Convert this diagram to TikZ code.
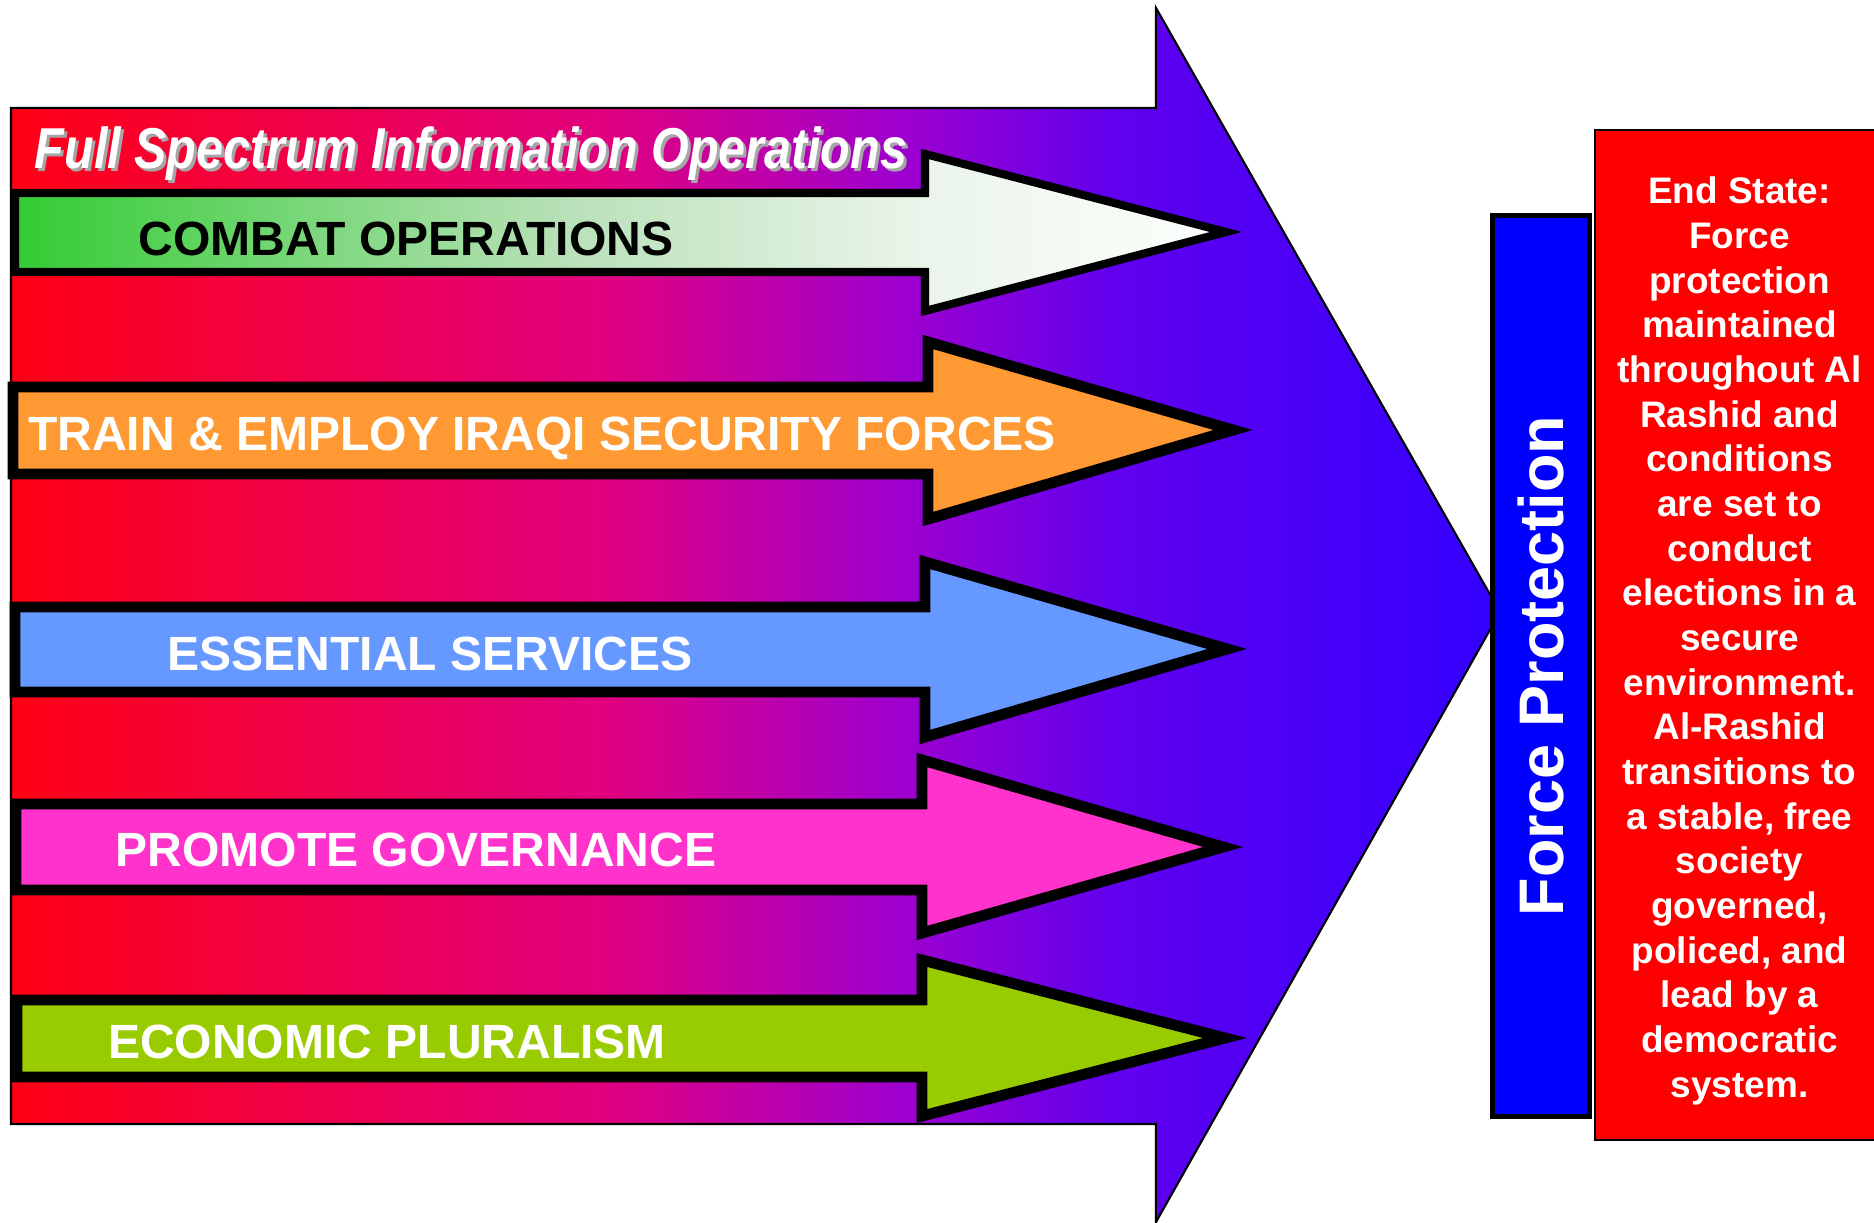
\documentclass[tikz,border=0pt]{standalone}
\usepackage{fontspec}
\setmainfont{Liberation Sans}
\newfontfamily\narrowsans[FakeStretch=0.84]{Liberation Sans}

% shadings, stops between 25bp and 75bp cover the path
\pgfdeclarehorizontalshading{bigarrowshade}{100bp}{rgb(0bp)=(1,0,0.08); rgb(25bp)=(1,0,0.08); rgb(45bp)=(0.88,0,0.5); rgb(54.5bp)=(0.63,0,0.8); rgb(62bp)=(0.38,0,0.93); rgb(75bp)=(0.2,0,1); rgb(100bp)=(0.2,0,1)}
\pgfdeclarehorizontalshading{combatshade}{100bp}{rgb(0bp)=(0.2,0.8,0.2); rgb(25bp)=(0.2,0.8,0.2); rgb(47.5bp)=(0.72,0.88,0.72); rgb(62.5bp)=(0.92,0.96,0.92); rgb(75bp)=(0.99,1,0.99); rgb(100bp)=(0.99,1,0.99)}

\definecolor{trainorange}{RGB}{255,153,51}
\definecolor{servblue}{RGB}{102,153,255}
\definecolor{govpink}{RGB}{255,51,204}
\definecolor{econgreen}{RGB}{153,204,0}

\begin{document}
\begin{tikzpicture}[x=0.01cm, y=-0.01cm,
		bigarrow/.style={draw=black, line width=0.6pt, shade, shading=bigarrowshade},
		linearrow/.style={draw=black, line width=3.1pt, line join=miter, miter limit=20},
		armlabel/.style={font=\fontsize{13.66}{16}\selectfont\bfseries, inner sep=0pt},
		titletext/.style={font=\narrowsans\fontsize{16.4}{19}\selectfont\bfseries\itshape, inner sep=0pt},
		fpbar/.style={draw=black, line width=1.5pt, fill={rgb,255:red,0;green,0;blue,255}, text=white,
			font=\fontsize{17.9}{21}\selectfont\bfseries, inner sep=0pt},
		endbox/.style={draw=black, line width=0.6pt, fill={rgb,255:red,255;green,0;blue,0}, text=white,
			font=\fontsize{10.5}{12.7}\selectfont\bfseries, inner sep=0pt}]
		\useasboundingbox (0,0) rectangle (1874,1222);

		% Draw the big arrow
		\draw[bigarrow] (11,108) -- (1156,108) -- (1156,8) -- (1500,612) -- (1156,1222) -- (1156,1124) -- (11,1124) -- cycle;

		% Draw the five lines of operation
		\draw[linearrow, line width=2.3pt, shade, shading=combatshade] (15,193) -- (925,193) -- (925,154) -- (1226,232) -- (925,311) -- (925,272) -- (15,272) -- cycle;
		\filldraw[linearrow, fill=trainorange] (13,387) -- (928,387) -- (928,342) -- (1233,430) -- (928,519) -- (928,474) -- (13,474) -- cycle;
		\filldraw[linearrow, fill=servblue] (15,607) -- (925,607) -- (925,562) -- (1227,649) -- (925,737) -- (925,692) -- (15,692) -- cycle;
		\filldraw[linearrow, fill=govpink] (16,804) -- (922,804) -- (922,760) -- (1223,847) -- (922,933) -- (922,890) -- (16,890) -- cycle;
		\filldraw[linearrow, fill=econgreen] (17,1000) -- (922,1000) -- (922,960) -- (1225,1038) -- (922,1116) -- (922,1077) -- (17,1077) -- cycle;

		\node[armlabel, text=black] (combat) at (406,239) {COMBAT OPERATIONS};
		\node[armlabel, text=white] (train) at (542,438) {TRAIN \& EMPLOY IRAQI SECURITY FORCES};
		\node[armlabel, text=white] (services) at (430,654) {ESSENTIAL SERVICES};
		\node[armlabel, text=white] (governance) at (416,850) {PROMOTE GOVERNANCE};
		\node[armlabel, text=white] (economic) at (387,1042) {ECONOMIC PLURALISM};

		% Title with its shadow
		\node[titletext, text=black!35] (titleshadow) at (474,157) {Full Spectrum Information Operations};
		\node[titletext, text=white] (title) at (471,154) {Full Spectrum Information Operations};

		% End state and force protection
		\node[endbox, minimum width=2.89cm, minimum height=10.1cm, align=center] (endstate) at (1739.5,635) {};
		\node[text=white, font=\fontsize{10.5}{12.7}\selectfont\bfseries, align=center, inner sep=0pt] (endtext) at (1739.5,641)
			{End State:\\Force\\protection\\maintained\\throughout Al\\Rashid and\\conditions\\are set to\\conduct\\elections in a\\secure\\environment.\\Al-Rashid\\transitions to\\a stable, free\\society\\governed,\\policed, and\\lead by a\\democratic\\system.};
		\node[fpbar, rotate=90, minimum width=9cm, minimum height=0.975cm] (forceprot) at (1541,666) {Force Protection};
	\end{tikzpicture}
\end{document}
